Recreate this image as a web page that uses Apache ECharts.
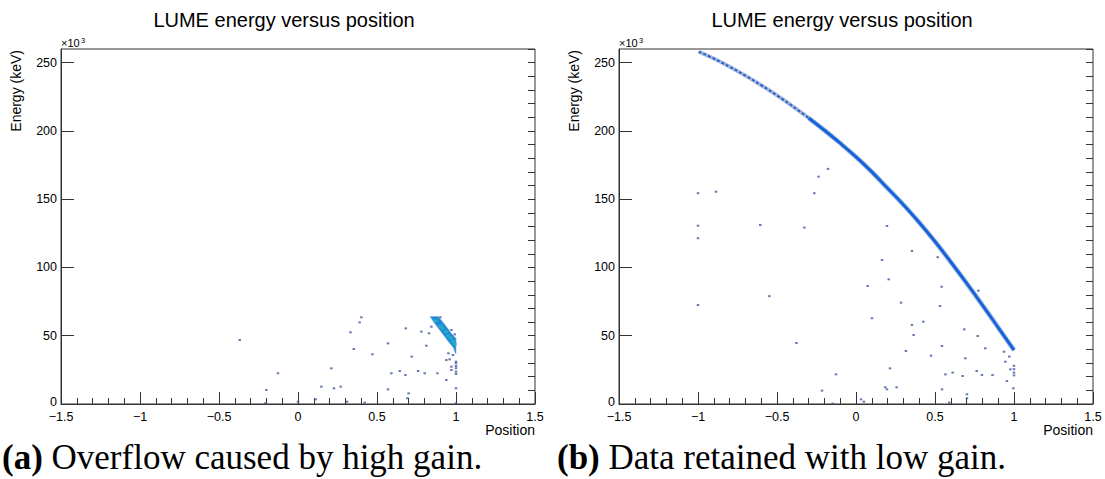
<!DOCTYPE html>
<html><head><meta charset="utf-8">
<script src="https://cdn.jsdelivr.net/npm/echarts@6/dist/echarts.min.js"></script>
<style>html,body{margin:0;padding:0;background:#fff}#c{width:1105px;height:479px}</style>
</head><body><div id="c"></div>
<script>
// ---- texts ----
const titles = ['LUME energy versus position', 'LUME energy versus position'];
const captionLabels = ['(a)', '(b)'];
const captionTexts = ['Overflow caused by high gain.', 'Data retained with low gain.'];
const xTitle = 'Position';
const yTitle = 'Energy (keV)';
const yExpBase = '×10';
const yExpPow = '3';
// ---- axes ----
const xRange = [-1.5, 1.5];
const xMajor = 0.5;
const yRange = [0, 260];      // in units of 10^3 keV
const yMajor = 50;
const yMinor = 10;
// ---- left panel (high gain) ----
const leftBandOutline = [[0.836,64],[0.888,64],[0.93,58],[0.972,51.5],[1.0,48],[1.0,37],[0.994,37.5],[0.985,41],[0.95,46],[0.905,53],[0.862,59.5]];
const leftBandHot = [[0.87,61],[0.9,57],[0.915,55.5],[0.935,53],[0.95,50],[0.965,48.5],[0.98,46],[0.992,44]];
const leftDots = [[-0.369,46.9],[-0.127,22.5],[-0.2,10.3],[-0.206,0.6],[0.0,1.7],[0.112,3.4],[0.148,12.7],[0.228,11.5],[0.27,12.7],[0.211,26.1],[0.31,1.7],[0.422,1.0],[0.401,63.5],[0.39,59.8],[0.332,52.5],[0.353,40.3],[0.471,36.4],[0.57,44.4],[0.57,10.7],[0.591,22.5],[0.644,24.2],[0.68,21.2],[0.682,55.4],[0.72,34.7],[0.70,7.8],[0.692,4.2],[0.76,24.2],[0.781,53],[0.802,22.5],[0.812,42.7],[0.829,51.8],[0.882,22.5],[0.939,17.6],[0.939,32.2],[0.96,32.7],[0.971,27.3],[0.971,24.9],[0.952,37.1],[0.981,35.9],[0.971,54.2],[0.992,51],[1.0,31],[1.0,29.8],[1.0,27.8],[1.0,26.2],[1.0,23.7],[1.0,22],[1.0,11.5],[1.0,0.5],[0.901,63.5],[0.844,56.6]];
// ---- right panel (low gain) ----
const rightBandUpper = [[-0.995,258],[-0.9,253],[-0.8,247],[-0.7,240.5],[-0.6,233.5],[-0.5,226],[-0.4,218],[-0.3,209.5]];
const rightBandLower = [[-0.3,209.5],[-0.2,200.5],[-0.1,191],[0,181],[0.1,170],[0.2,158],[0.3,146],[0.4,133],[0.5,119],[0.6,104],[0.7,88.5],[0.8,72.5],[0.9,56],[1.0,39.5]];
const rightDots = [[-1.0,154.4],[-0.886,155.5],[-1.0,130.6],[-1.0,121.4],[-0.606,131.1],[-0.327,129.2],[-0.264,154.4],[-0.237,166.5],[-0.177,172.2],[-1.0,72.5],[-0.548,79],[-0.377,44.7],[0.196,130.4],[0.354,112.1],[0.165,105.5],[0.207,91.3],[0.074,86.4],[0.542,85.9],[0.285,74.2],[0.532,71.8],[0.101,62.8],[0.354,57.9],[0.426,60.3],[0.685,54.7],[0.365,50.5],[0.544,42.5],[0.316,38.8],[0.475,35.4],[0.77,49.8],[0.818,40.8],[0.692,33.5],[0.945,31],[0.97,34.7],[0.977,25.4],[0.955,16.8],[0.215,26.1],[-0.127,21.7],[0.566,21.7],[0.612,23],[0.675,20.5],[0.764,24.2],[0.797,21.2],[0.864,21.2],[0.185,12.2],[0.196,10.7],[0.257,12.2],[-0.215,9.8],[0.544,10.7],[0.996,11.5],[1.0,28],[1.0,25.5],[1.0,23],[1.0,21],[0.702,7.1],[0.702,4.2],[0.032,3.4],[0.05,1.7],[-0.148,0.3],[0.59,1.0],[0.937,38.3],[0.774,83],[0.517,107.5]];

// ---- layout ----
const panels = [{left: 61, cx: 284, capX: 2}, {left: 619, cx: 842, capX: 557}];
const plotTop = 49, plotW = 474, plotH = 355;
const AX = '#333';
const FONT = '"Liberation Sans", Arial, Helvetica, sans-serif';
const SERIF = '"Liberation Serif", "DejaVu Serif", serif';
const fmtX = v => (v < 0 ? '\u2212' + Math.abs(v) : String(v));
const fmtY = v => (v === yRange[0] ? '{z|' + v + '}' : String(v));

const grid = panels.map(p => ({left: p.left, top: plotTop, width: plotW, height: plotH, show: true, borderColor: AX, borderWidth: 1, containLabel: false}));
const xAxis = panels.map((p, i) => ({
  gridIndex: i, type: 'value', min: xRange[0], max: xRange[1], interval: xMajor,
  axisLine: {show: true, onZero: false, lineStyle: {color: AX, width: 1}},
  axisTick: {show: true, inside: true, length: 12, lineStyle: {color: AX}},
  minorTick: {show: true, splitNumber: 5, length: 6, lineStyle: {color: AX}},
  splitLine: {show: false},
  axisLabel: {formatter: fmtX, color: '#000', fontSize: 12.5, lineHeight: 12, fontFamily: FONT, margin: 7}
}));
const yAxis = [];
panels.forEach((p, i) => {
  yAxis.push({
    gridIndex: i, type: 'value', min: yRange[0], max: yRange[1], interval: yMajor,
    axisLine: {show: true, onZero: false, lineStyle: {color: AX, width: 1}},
    axisTick: {show: true, inside: true, length: 13, lineStyle: {color: AX}},
    splitLine: {show: false},
    axisLabel: {formatter: fmtY, color: '#000', fontSize: 12.5, lineHeight: 12, fontFamily: FONT, margin: 4, showMaxLabel: false,
      rich: {z: {fontSize: 12.5, lineHeight: 12, fontFamily: FONT, color: '#000', padding: [0, 0, 5, 0]}}}
  });
  yAxis.push({
    gridIndex: i, type: 'value', min: yRange[0], max: yRange[1], interval: yMinor,
    axisLine: {show: false, onZero: false}, axisLabel: {show: false}, splitLine: {show: false},
    axisTick: {show: true, inside: true, length: 7, lineStyle: {color: AX}}
  });
});

const dotStyle = {color: '#3d5a9e'};
const series = [
  {type: 'custom', xAxisIndex: 0, yAxisIndex: 0, data: [leftBandOutline[0]], silent: true, z: 3,
   renderItem: (params, api) => ({type: 'polygon', shape: {points: leftBandOutline.map(d => api.coord(d))}, style: {fill: '#1d8ad6', stroke: 'rgba(120,170,220,0.6)', lineWidth: 1}})},
  {type: 'scatter', xAxisIndex: 0, yAxisIndex: 0, data: leftBandHot, symbol: 'rect', symbolSize: [4, 3], itemStyle: {color: '#2bb0c6'}, silent: true, z: 4},
  {type: 'scatter', xAxisIndex: 0, yAxisIndex: 0, data: leftDots, symbol: 'rect', symbolSize: [2.5, 2], itemStyle: dotStyle, silent: true, z: 2},
  {type: 'line', xAxisIndex: 1, yAxisIndex: 2, data: rightBandUpper, symbol: 'none', smooth: 0.4, lineStyle: {color: 'rgba(120,145,195,0.6)', width: 4}, silent: true, z: 2},
  {type: 'line', xAxisIndex: 1, yAxisIndex: 2, data: rightBandUpper, symbol: 'none', smooth: 0.4, lineStyle: {color: '#2a62cc', width: 2, type: [3, 2]}, silent: true, z: 3},
  {type: 'line', xAxisIndex: 1, yAxisIndex: 2, data: rightBandLower, symbol: 'none', smooth: 0.4, lineStyle: {color: 'rgba(120,150,200,0.55)', width: 5}, silent: true, z: 2},
  {type: 'line', xAxisIndex: 1, yAxisIndex: 2, data: rightBandLower, symbol: 'none', smooth: 0.4, lineStyle: {color: '#1563da', width: 3}, silent: true, z: 3},
  {type: 'scatter', xAxisIndex: 1, yAxisIndex: 2, data: rightDots, symbol: 'rect', symbolSize: [2.5, 2], itemStyle: dotStyle, silent: true, z: 2}
];

const graphic = [];
panels.forEach((p, i) => {
  graphic.push({type: 'text', x: p.cx, y: 20, style: {text: titles[i], fontSize: 20, lineHeight: 22, fontFamily: FONT, fill: '#000', align: 'center', verticalAlign: 'middle'}});
  graphic.push({type: 'text', x: p.left - 45, y: plotTop + 1, rotation: Math.PI / 2, style: {text: yTitle, fontSize: 14, fontFamily: FONT, fill: '#000', align: 'right', verticalAlign: 'middle'}});
  graphic.push({type: 'text', x: p.left, y: plotTop - 1, style: {text: yExpBase, fontSize: 11, lineHeight: 11, fontFamily: FONT, fill: '#000', align: 'left', verticalAlign: 'bottom'}});
  graphic.push({type: 'text', x: p.left + 20, y: plotTop - 5, style: {text: yExpPow, fontSize: 7.5, lineHeight: 8, fontFamily: FONT, fill: '#000', align: 'left', verticalAlign: 'bottom'}});
  graphic.push({type: 'text', x: p.left + plotW, y: 430, style: {text: xTitle, fontSize: 14, lineHeight: 14, fontFamily: FONT, fill: '#000', align: 'right', verticalAlign: 'middle'}});
  graphic.push({type: 'text', x: p.capX, y: 457, style: {text: '{b|' + captionLabels[i] + '} ' + captionTexts[i], fontSize: 35, lineHeight: 36, fontFamily: SERIF, fill: '#000', align: 'left', verticalAlign: 'middle', rich: {b: {fontWeight: 'bold', fontSize: 35, lineHeight: 36, fontFamily: SERIF}}}});
});

const chart = echarts.init(document.getElementById('c'), null, {renderer: 'svg'});
chart.setOption({animation: false, backgroundColor: '#fff', grid, xAxis, yAxis, series, graphic});
</script></body></html>
